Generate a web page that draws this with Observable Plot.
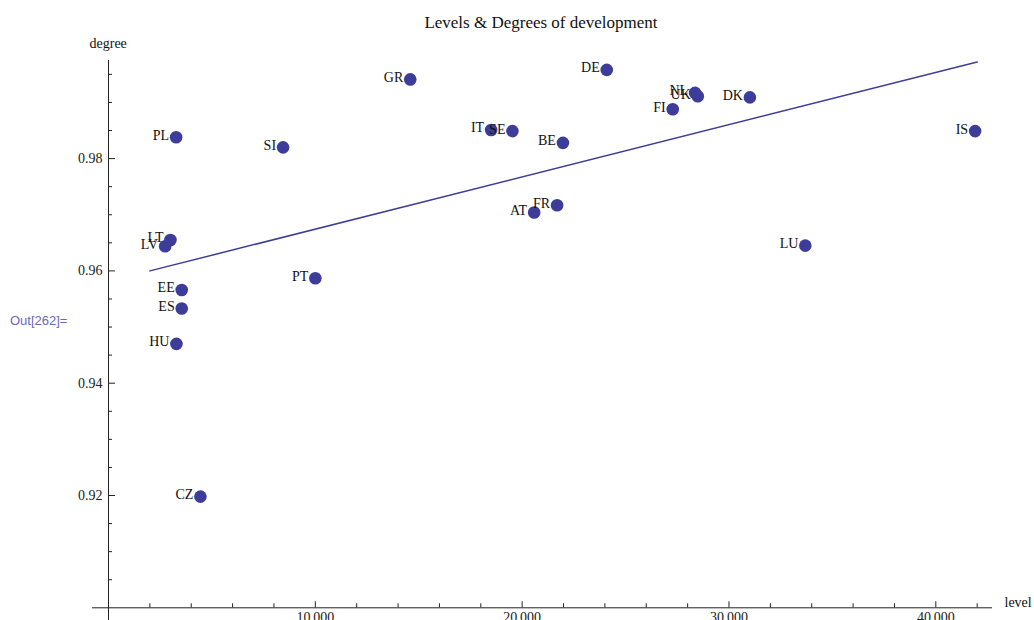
<!DOCTYPE html>
<html>
<head>
<meta charset="utf-8">
<script src="https://cdn.jsdelivr.net/npm/d3@7"></script>
<script src="https://cdn.jsdelivr.net/npm/@observablehq/plot@0.6"></script>
<style>
  html, body { margin: 0; padding: 0; background: #fff; }
  #wrap { position: relative; width: 1034px; height: 620px; overflow: hidden; }
  #title { position: absolute; left: 0; width: 1082px; top: 13px; text-align: center;
           font: 17px "Liberation Serif", "DejaVu Serif", serif; color: #111; }
  #out { position: absolute; left: 10px; top: 313px; font: 13px "Liberation Sans", Arial, sans-serif; color: #6a6ab8; }
  #chart svg { display: block; }
</style>
</head>
<body>
<div id="wrap">
  <div id="chart"></div>
  <div id="title">Levels &amp; Degrees of development</div>
  <div id="out">Out[262]=</div>
</div>
<script>
// Countries, level (x) and degree (y)
const countries = ["PL","SI","GR","DE","NL","UK","DK","FI","IT","SE","BE","FR","AT","IS","LU","LT","LV","EE","ES","HU","PT","CZ"];
const levels    = [3270, 8440, 14590, 24090, 28360, 28490, 31010, 27280, 18500, 19530, 21970, 21690, 20580, 41900, 33690, 2995, 2740, 3540, 3540, 3285, 10000, 4444];
const degrees   = [0.9838, 0.9820, 0.9941, 0.9958, 0.9917, 0.9911, 0.9909, 0.9888, 0.9851, 0.9849, 0.9828, 0.9717, 0.9704, 0.9849, 0.9645, 0.9655, 0.9644, 0.9566, 0.9533, 0.9470, 0.9587, 0.9198];

// Fitted line endpoints
const fitLevels  = [2000, 42000];
const fitDegrees = [0.9600, 0.9972];

// Tick values
const xMajorTicks = [10000, 20000, 30000, 40000];
const xMinorTicks = [2000,4000,6000,8000,12000,14000,16000,18000,22000,24000,26000,28000,32000,34000,36000,38000,42000];
const yMajorTicks = [0.92, 0.94, 0.96, 0.98];
const yMinorTicks = [0.905,0.91,0.915,0.925,0.93,0.935,0.945,0.95,0.955,0.965,0.97,0.975,0.985,0.99,0.995];

const points = countries.map((c, i) => ({country: c, level: levels[i], degree: degrees[i]}));
const fit = fitLevels.map((l, i) => ({level: l, degree: fitDegrees[i]}));

const blue = "#3d3d99";
const serif = "Liberation Serif, DejaVu Serif, serif";
const fmtX = d => d3.format(",")(d).replace(/,/g, "\u2009");
const none = () => "";

const chart = Plot.plot({
  width: 1034,
  height: 620,
  marginLeft: 108,
  marginRight: 42,
  marginTop: 60,
  marginBottom: 12.7,
  style: {fontFamily: serif, fontSize: "14px", background: "white", color: "#111", overflow: "visible"},
  x: {domain: [0, 42740], axis: null},
  y: {domain: [0.9, 0.99747], axis: null},
  marks: [
    // axis lines (crossing at level 0, degree 0.9)
    Plot.ruleY([0.9], {stroke: "#222", strokeWidth: 1, insetLeft: -16}),
    Plot.ruleX([0], {stroke: "#222", strokeWidth: 1, insetBottom: -14}),
    Plot.axisX(xMajorTicks, {anchor: "bottom", tickSize: -6, tickFormat: none, label: null, stroke: "#222"}),
    Plot.axisX(xMinorTicks, {anchor: "bottom", tickSize: -4, tickFormat: none, label: null, stroke: "#222"}),
    Plot.axisY(yMajorTicks, {anchor: "left", tickSize: -7, tickFormat: none, label: null, stroke: "#222"}),
    Plot.axisY(yMinorTicks, {anchor: "left", tickSize: -4, tickFormat: none, label: null, stroke: "#222"}),
    // tick labels
    Plot.text(xMajorTicks, {x: d => d, y: 0.9, text: fmtX, lineAnchor: "top", dy: 4, fontSize: 14, fill: "#222"}),
    Plot.text(yMajorTicks, {x: 0, y: d => d, text: d => d.toFixed(2), textAnchor: "end", dx: -6, fontSize: 14, fill: "#222"}),
    // fitted line
    Plot.line(fit, {x: "level", y: "degree", stroke: blue, strokeWidth: 1.5}),
    // points
    Plot.dot(points, {x: "level", y: "degree", r: 6.3, fill: blue, stroke: "none"}),
    Plot.text(points, {x: "level", y: "degree", text: "country", textAnchor: "end", dx: -7, dy: -2, fontSize: 14, fill: "#111"}),
    // axis titles
    Plot.text(["degree"], {frameAnchor: "top-left", dx: -19, dy: -22, fontSize: 14, fill: "#111", textAnchor: "start"}),
    Plot.text(["level"], {frameAnchor: "bottom-right", dx: 12, dy: -1, fontSize: 14, fill: "#111", textAnchor: "start"})
  ]
});
document.getElementById("chart").appendChild(chart);
</script>
</body>
</html>
